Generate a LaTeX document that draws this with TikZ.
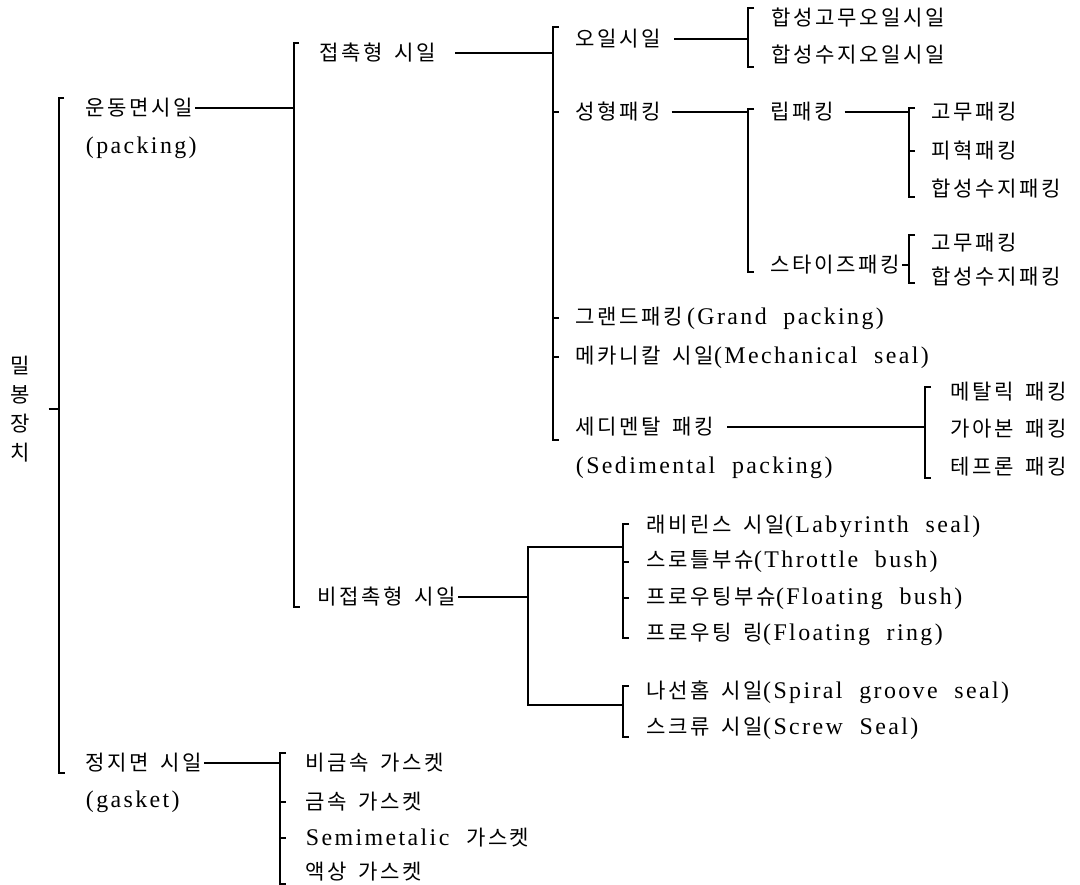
\documentclass[tikz,border=0pt]{standalone}
\usepackage{fontspec}
\usepackage{tikz}
\usetikzlibrary{calc}
\setmainfont{Liberation Serif}[LetterSpace=10,WordSpace=2]
\newfontfamily\hangul{Noto Sans CJK KR}[LetterSpace=12,WordSpace=1.6]
\newcommand{\hg}[1]{{\fontsize{15}{18}\hangul #1}}

\begin{document}
\begin{tikzpicture}[x=0.025cm,y=-0.025cm,line width=0.8pt,
  lb/.style={anchor=west,inner sep=1pt,font=\fontsize{17}{18}\selectfont}]
  \useasboundingbox (0,0) rectangle (1080,885);
  % bracket columns
  \coordinate (bA) at (59,0);
  \coordinate (bB) at (294,0);
  \coordinate (bI) at (280,0);
  \coordinate (bC) at (553,0);
  \coordinate (bG) at (528,0);
  \coordinate (bH) at (623,0);
  \coordinate (bD) at (748,0);
  \coordinate (bE) at (909,0);
  \coordinate (bF) at (925,0);
  % labels
  \node[align=center,inner sep=1pt,font=\fontsize{15}{20.6}\selectfont] (root) at (20,409) {\hg{밀}\\\hg{봉}\\\hg{장}\\\hg{치}};
  \node[lb] (uds)  at (84,108) {\hg{운동면시일}};
  \node[lb] (udsE) at (84,148) {(packing)};
  \node[lb] (jjm)  at (84,763) {\hg{정지면 시일}};
  \node[lb] (jjmE) at (84,802) {(gasket)};
  \node[lb] (con)  at (318,53) {\hg{접촉형 시일}};
  \node[lb] (ncon) at (316,597) {\hg{비접촉형 시일}};
  \node[lb] (oil)  at (574,39) {\hg{오일시일}};
  \node[lb] (hs1)  at (770,18) {\hg{합성고무오일시일}};
  \node[lb] (hs2)  at (770,55) {\hg{합성수지오일시일}};
  \node[lb] (sh)   at (574,112) {\hg{성형패킹}};
  \node[lb] (lip)  at (769,112) {\hg{립패킹}};
  \node[lb] (lp1)  at (930,112) {\hg{고무패킹}};
  \node[lb] (lp2)  at (930,151) {\hg{피혁패킹}};
  \node[lb] (lp3)  at (930,189) {\hg{합성수지패킹}};
  \node[lb] (sq)   at (769,265) {\hg{스타이즈패킹}};
  \node[lb] (sq1)  at (930,243) {\hg{고무패킹}};
  \node[lb] (sq2)  at (930,277) {\hg{합성수지패킹}};
  \node[lb] (gp)   at (574,318) {\hg{그랜드패킹}\,(Grand packing)};
  \node[lb] (ms)   at (574,357) {\hg{메카니칼 시일}(Mechanical seal)};
  \node[lb] (sd)   at (574,427) {\hg{세디멘탈 패킹}};
  \node[lb] (sdE)  at (574,468) {(Sedimental packing)};
  \node[lb] (sd1)  at (949,392) {\hg{메탈릭 패킹}};
  \node[lb] (sd2)  at (949,429) {\hg{가아본 패킹}};
  \node[lb] (sd3)  at (949,467) {\hg{테프론 패킹}};
  \node[lb] (lab)  at (645,526) {\hg{래비린스 시일}(Labyrinth seal)};
  \node[lb] (thr)  at (645,562) {\hg{스로틀부슈}(Throttle bush)};
  \node[lb] (fb)   at (645,598) {\hg{프로우팅부슈}(Floating bush)};
  \node[lb] (fr)   at (645,634) {\hg{프로우팅 링}(Floating ring)};
  \node[lb] (sp)   at (645,692) {\hg{나선홈 시일}(Spiral groove seal)};
  \node[lb] (sc)   at (645,728) {\hg{스크류 시일}(Screw Seal)};
  \node[lb] (gs1)  at (304,763) {\hg{비금속 가스켓}};
  \node[lb] (gs2)  at (304,802) {\hg{금속 가스켓}};
  \node[lb] (gs3)  at (304,838) {Semimetalic \hg{가스켓}};
  \node[lb] (gs4)  at (304,872) {\hg{액상 가스켓}};
  % level 1
  \draw ([xshift=12pt]root.east) -- (bA |- root.east);
  \draw ($(bA |- uds.west)+(5,-10)$) -| ($(bA |- jjm.west)+(0,10)$) -- ++(6,0);
  % level 2
  \draw (uds.east) -- (bB |- uds.east);
  \draw ($(bB |- con.west)+(5,-10)$) -| ($(bB |- ncon.west)+(0,10)$) -- ++(6,0);
  \draw (jjm.east) -- (bI |- jjm.east);
  \draw ($(bI |- gs1.west)+(6,-10)$) -| ($(bI |- gs4.west)+(0,12)$) -- ++(6,0);
  \foreach \n in {gs2,gs3} \draw (bI |- \n.west) -- ++(6,0);
  % contact seals
  \draw ([xshift=12pt]con.east) -- (bC |- con.east);
  \draw ($(bC |- oil.west)+(6,-12)$) -| ($(bC |- sd.west)+(0,13)$) -- ++(6,0);
  \foreach \n in {sh,gp,ms} \draw (bC |- \n.west) -- ++(6,0);
  \draw ([xshift=8pt]oil.east) -- (bD |- oil.east);
  \draw ($(bD |- hs1.west)+(6,-10)$) -| ($(bD |- hs2.west)+(0,12)$) -- ++(6,0);
  \draw ([xshift=6pt]sh.east) -- (bD |- sh.east);
  \draw ($(bD |- lip.west)+(6,-3)$) -| ($(bD |- sq.west)+(0,7)$) -- ++(6,0);
  \draw ([xshift=6pt]lip.east) -- (bE |- lip.east);
  \draw ($(bE |- lp1.west)+(6,-4)$) -| ($(bE |- lp3.west)+(0,8)$) -- ++(6,0);
  \draw (bE |- lp2.west) -- ++(6,0);
  \draw (sq.east) -- (bE |- sq.east);
  \draw ($(bE |- sq1.west)+(6,-8)$) -| ($(bE |- sq2.west)+(0,6)$) -- ++(6,0);
  \draw ([xshift=8pt]sd.east) -- (bF |- sd.east);
  \draw ($(bF |- sd1.west)+(6,-5)$) -| ($(bF |- sd3.west)+(0,11)$) -- ++(6,0);
  % non-contact seals
  \coordinate (gT) at (528,547);
  \coordinate (gB) at (528,705);
  \draw (ncon.east) -- (bG |- ncon.east);
  \draw (bH |- gT) -- (gT) -- (gB) -- (bH |- gB);
  \draw ($(bH |- lab.west)+(6,-2)$) -| ($(bH |- fr.west)+(0,4)$) -- ++(6,0);
  \foreach \n in {thr,fb} \draw (bH |- \n.west) -- ++(6,0);
  \draw ($(bH |- sp.west)+(6,-6)$) -| ($(bH |- sc.west)+(0,9)$) -- ++(6,0);
\end{tikzpicture}
\end{document}
